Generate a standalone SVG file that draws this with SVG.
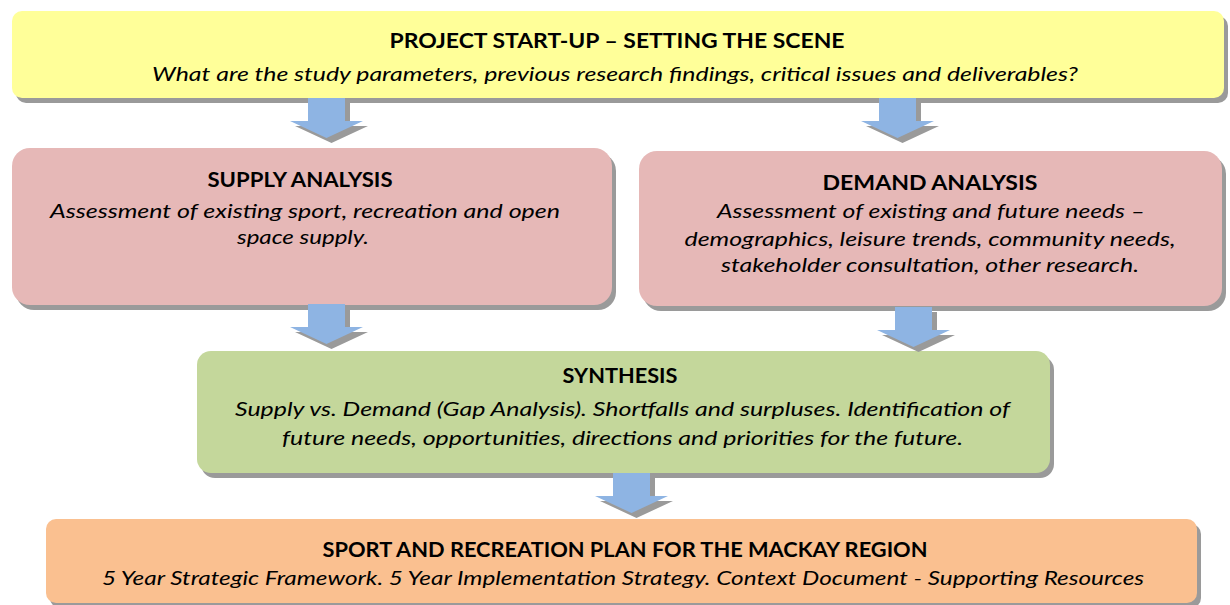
<svg xmlns="http://www.w3.org/2000/svg" width="1230" height="605" viewBox="0 0 1230 605">
  <style>
    .shadow { fill: #9a9a9a; }
    .arrow { fill: #8eb4e3; }
    .arrow-shadow { fill: #9a9a9a; }
    .title { font-family: "Lato", "Liberation Sans", sans-serif; font-weight: bold; font-size: 20px; fill: #000; text-anchor: middle; }
    .body { font-family: "Lato", "Liberation Sans", sans-serif; font-style: italic; font-size: 20px; fill: #000; text-anchor: middle; }
  </style>
  <defs>
    <!-- block arrow pointing down, origin at top-left of head width 73 -->
    <path id="down-arrow" d="M18,0 H55 V23 H73 L36.5,40 L0,23 H18 Z"/>
  </defs>
  <rect width="1230" height="605" fill="#ffffff"/>

  <g id="node-startup">
    <rect class="shadow" x="16" y="16" width="1212" height="87" rx="10"/>
    <rect x="12" y="11" width="1212" height="87" rx="10" fill="#ffff99"/>
    <text class="title" x="617" y="48" textLength="455" lengthAdjust="spacingAndGlyphs">PROJECT START-UP – SETTING THE SCENE</text>
    <text class="body" x="615" y="81" textLength="926" lengthAdjust="spacingAndGlyphs">What are the study parameters, previous research findings, critical issues and deliverables?</text>
  </g>

  <g id="node-supply">
    <rect class="shadow" x="16" y="153" width="600" height="157" rx="18"/>
    <rect x="12" y="148" width="600" height="157" rx="18" fill="#e6b8b7"/>
    <text class="title" x="300" y="187" textLength="185" lengthAdjust="spacingAndGlyphs">SUPPLY ANALYSIS</text>
    <text class="body" x="305" y="218" textLength="510" lengthAdjust="spacingAndGlyphs">Assessment of existing sport, recreation and open</text>
    <text class="body" x="303" y="244" textLength="132" lengthAdjust="spacingAndGlyphs">space supply.</text>
  </g>

  <g id="node-demand">
    <rect class="shadow" x="643" y="156" width="583" height="155" rx="18"/>
    <rect x="639" y="151" width="583" height="155" rx="18" fill="#e6b8b7"/>
    <text class="title" x="930" y="190" textLength="215" lengthAdjust="spacingAndGlyphs">DEMAND ANALYSIS</text>
    <text class="body" x="931" y="218" textLength="428" lengthAdjust="spacingAndGlyphs">Assessment of existing and future needs –</text>
    <text class="body" x="930" y="246" textLength="491" lengthAdjust="spacingAndGlyphs">demographics, leisure trends, community needs,</text>
    <text class="body" x="930" y="272" textLength="418" lengthAdjust="spacingAndGlyphs">stakeholder consultation, other research.</text>
  </g>

  <g id="node-synthesis">
    <rect class="shadow" x="201" y="356" width="853" height="122" rx="14"/>
    <rect x="197" y="351" width="853" height="122" rx="14" fill="#c4d79b"/>
    <text class="title" x="620" y="383" textLength="115" lengthAdjust="spacingAndGlyphs">SYNTHESIS</text>
    <text class="body" x="622.5" y="416" textLength="775" lengthAdjust="spacingAndGlyphs">Supply vs. Demand (Gap Analysis). Shortfalls and surpluses. Identification of</text>
    <text class="body" x="622.5" y="445" textLength="681" lengthAdjust="spacingAndGlyphs">future needs, opportunities, directions and priorities for the future.</text>
  </g>

  <g id="node-plan">
    <rect class="shadow" x="50" y="524" width="1151" height="84" rx="10"/>
    <rect x="46" y="519" width="1151" height="84" rx="10" fill="#fac090"/>
    <text class="title" x="625" y="557" textLength="605" lengthAdjust="spacingAndGlyphs">SPORT AND RECREATION PLAN FOR THE MACKAY REGION</text>
    <text class="body" x="623" y="585" textLength="1042" lengthAdjust="spacingAndGlyphs">5 Year Strategic Framework. 5 Year Implementation Strategy. Context Document - Supporting Resources</text>
  </g>

  <g id="connectors">
    <!-- startup -> supply -->
    <use href="#down-arrow" class="arrow-shadow" x="295" y="103"/>
    <use href="#down-arrow" class="arrow" x="290" y="98"/>
    <!-- startup -> demand -->
    <use href="#down-arrow" class="arrow-shadow" x="866" y="103"/>
    <use href="#down-arrow" class="arrow" x="861" y="98"/>
    <!-- supply -> synthesis -->
    <use href="#down-arrow" class="arrow-shadow" x="295" y="309"/>
    <use href="#down-arrow" class="arrow" x="290" y="304"/>
    <!-- demand -> synthesis -->
    <use href="#down-arrow" class="arrow-shadow" x="882" y="312"/>
    <use href="#down-arrow" class="arrow" x="877" y="307"/>
    <!-- synthesis -> plan -->
    <use href="#down-arrow" class="arrow-shadow" x="600" y="478"/>
    <use href="#down-arrow" class="arrow" x="595" y="473"/>
  </g>
</svg>
